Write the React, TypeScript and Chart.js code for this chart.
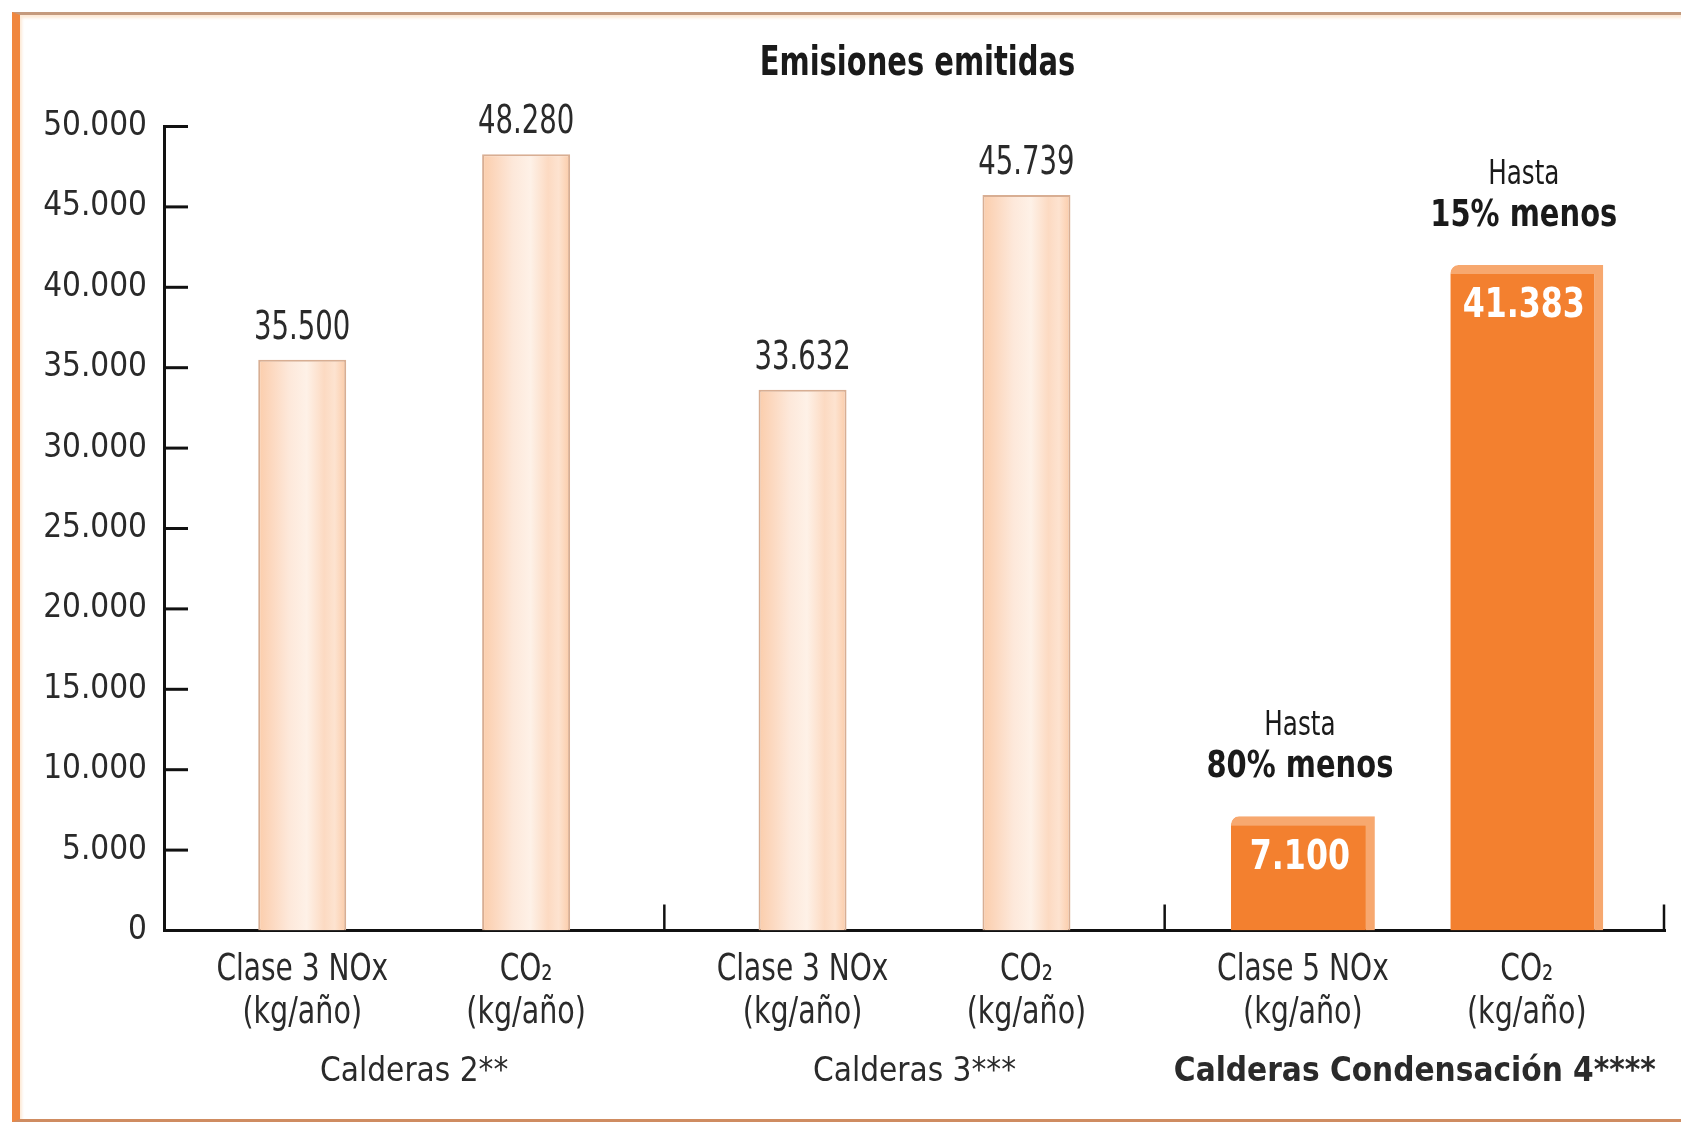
import React, { useEffect, useRef } from "react";
import { Chart, registerables } from "chart.js";

Chart.register(...registerables);

// ---------- data ----------
const chartTitle = "Emisiones emitidas";
const groupLabels = ["Calderas 2**", "Calderas 3***", "Calderas Condensación 4****"];
const noxLabels = ["Clase 3 NOx", "Clase 3 NOx", "Clase 5 NOx"];
const co2Labels = ["CO₂", "CO₂", "CO₂"];
const unitLabel = "(kg/año)";
const conventionalNox = [35500, 33632, null];
const conventionalCo2 = [48280, 45739, null];
const condensingNox = [null, null, 7100];
const condensingCo2 = [null, null, 41383];
const reductionPrefix = "Hasta";
const reductionNox = "80% menos";
const reductionCo2 = "15% menos";
const yMin = 0;
const yMax = 50000;
const yStep = 5000;

// ---------- styles ----------
const FONT =
  "'Liberation Sans Narrow', 'Arial Narrow', 'DejaVu Sans Condensed', 'Roboto Condensed', 'Liberation Sans', sans-serif";
const TEXT = "#2a2a2a";
const ORANGE = "#f3802f";
const ORANGE_EDGE = "#f7a86f";
const PALE_BORDER = "#d8ae93";

const fmt = (v: number) => String(Math.round(v)).replace(/\B(?=(\d{3})+(?!\d))/g, ".");

// text squeezed horizontally to imitate a condensed face
function squeezed(ctx: CanvasRenderingContext2D, text: string, x: number, y: number, sx: number) {
  ctx.save();
  ctx.translate(x, y);
  ctx.scale(sx, 1);
  ctx.fillText(text, 0, 0);
  ctx.restore();
}

const decorPlugin = {
  id: "decor",
  beforeDatasetsDraw(chart: any) {
    const ctx = chart.ctx;
    [0, 1].forEach((di) => {
      chart.getDatasetMeta(di).data.forEach((el: any) => {
        if (!isFinite(el.x) || !isFinite(el.y) || !isFinite(el.width)) return;
        const h = el.width / 2;
        const g = ctx.createLinearGradient(el.x - h, 0, el.x + h, 0);
        g.addColorStop(0, "#fbcdab");
        g.addColorStop(0.15, "#fcd8bf");
        g.addColorStop(0.35, "#fde8da");
        g.addColorStop(0.55, "#fef1e7");
        g.addColorStop(0.75, "#fcdac2");
        g.addColorStop(0.87, "#fde3d0");
        g.addColorStop(1, "#fbcba8");
        el.options = Object.assign({}, el.options, { backgroundColor: g });
      });
    });
  },
  afterDatasetsDraw(chart: any) {
    const { ctx, chartArea, scales } = chart;
    const xs = scales.x;
    const ys = scales.y;
    ctx.save();
    // y tick marks pointing into the plot
    ctx.strokeStyle = "#111";
    ctx.lineWidth = 3;
    ys.ticks.forEach((t: any) => {
      if (t.value === yMin) return;
      const py = ys.getPixelForValue(t.value);
      ctx.beginPath();
      ctx.moveTo(chartArea.left, py);
      ctx.lineTo(chartArea.left + 24, py);
      ctx.stroke();
    });
    // group separators rising from the x axis
    ctx.lineWidth = 2.5;
    for (let i = 0; i < groupLabels.length; i++) {
      const px = Math.min(xs.getPixelForValue(i + 0.5), chartArea.right - 1);
      ctx.beginPath();
      ctx.moveTo(px, chartArea.bottom);
      ctx.lineTo(px, chartArea.bottom - 26);
      ctx.stroke();
    }

    // title
    ctx.fillStyle = "#1a1a1a";
    ctx.textAlign = "center";
    ctx.textBaseline = "middle";
    ctx.font = `bold 41px ${FONT}`;
    squeezed(ctx, chartTitle, (chartArea.left + chartArea.right) / 2 + 3, chartArea.top - 62, 0.785);

    // labels above pale bars
    ctx.font = `39px ${FONT}`;
    ctx.fillStyle = TEXT;
    [0, 1].forEach((di) => {
      const ds = chart.data.datasets[di];
      chart.getDatasetMeta(di).data.forEach((el: any, i: number) => {
        const v = ds.data[i];
        if (v == null || !isFinite(el.y)) return;
        squeezed(ctx, fmt(v), el.x, el.y - 31, 0.785);
      });
    });

    // orange bars: value inside, reduction note above
    [2, 3].forEach((di) => {
      const ds = chart.data.datasets[di];
      const note = di === 2 ? reductionNox : reductionCo2;
      chart.getDatasetMeta(di).data.forEach((el: any, i: number) => {
        const v = ds.data[i];
        if (v == null || !isFinite(el.y)) return;
        const cx = el.x - 3;
        ctx.fillStyle = "#ffffff";
        ctx.font = `bold 40px ${FONT}`;
        squeezed(ctx, fmt(v), cx, el.y + 42, 0.88);
        ctx.fillStyle = "#1a1a1a";
        ctx.font = `33px ${FONT}`;
        squeezed(ctx, reductionPrefix, cx, el.y - 90, 0.83);
        ctx.font = `bold 37px ${FONT}`;
        squeezed(ctx, note, cx, el.y - 49, 0.87);
      });
    });

    // per-bar category labels below the axis
    ctx.fillStyle = TEXT;
    ctx.font = `38px ${FONT}`;
    const drawSub = (di: number, title: string[], idx: number) => {
      const el: any = chart.getDatasetMeta(di).data[idx];
      if (!el || !isFinite(el.x)) return;
      squeezed(ctx, title[idx], el.x, chartArea.bottom + 40, 0.82);
      squeezed(ctx, unitLabel, el.x, chartArea.bottom + 83, 0.835);
    };
    for (let i = 0; i < groupLabels.length; i++) {
      const noxDs = conventionalNox[i] != null ? 0 : 2;
      const co2Ds = conventionalCo2[i] != null ? 1 : 3;
      drawSub(noxDs, noxLabels, i);
      drawSub(co2Ds, co2Labels, i);
    }
    ctx.restore();
  },
};

export default function App() {
  const ref = useRef<HTMLCanvasElement | null>(null);

  useEffect(() => {
    if (!ref.current) return;
    const chart = new Chart(ref.current, {
      type: "bar",
      data: {
        labels: groupLabels,
        datasets: [
          {
            label: "NOx",
            data: conventionalNox,
            stack: "nox",
            backgroundColor: "#fcdcc5",
            borderColor: PALE_BORDER,
            borderWidth: 2,
            barPercentage: 0.393,
            categoryPercentage: 0.895,
          },
          {
            label: "CO2",
            data: conventionalCo2,
            stack: "co2",
            backgroundColor: "#fcdcc5",
            borderColor: PALE_BORDER,
            borderWidth: 2,
            barPercentage: 0.393,
            categoryPercentage: 0.895,
          },
          {
            label: "NOx condensación",
            data: condensingNox,
            stack: "nox",
            backgroundColor: ORANGE,
            borderColor: ORANGE_EDGE,
            borderWidth: { top: 9, right: 9, left: 0, bottom: 0 },
            borderRadius: { topLeft: 8, topRight: 0, bottomLeft: 0, bottomRight: 0 },
            borderSkipped: false,
            barPercentage: 0.643,
            categoryPercentage: 0.895,
          },
          {
            label: "CO2 condensación",
            data: condensingCo2,
            stack: "co2",
            backgroundColor: ORANGE,
            borderColor: ORANGE_EDGE,
            borderWidth: { top: 9, right: 9, left: 0, bottom: 0 },
            borderRadius: { topLeft: 8, topRight: 0, bottomLeft: 0, bottomRight: 0 },
            borderSkipped: false,
            barPercentage: 0.683,
            categoryPercentage: 0.895,
          },
        ] as any,
      },
      options: {
        responsive: false,
        animation: false,
        layout: { padding: { left: 20, top: 126.5, right: 16, bottom: 0 } },
        plugins: {
          legend: { display: false },
          title: { display: false },
          tooltip: { enabled: false },
        },
        scales: {
          x: {
            stacked: true,
            grid: { display: false, drawTicks: false },
            border: { display: true, color: "#111", width: 3 },
            ticks: {
              padding: 0,
              color: TEXT,
              autoSkip: false,
              maxRotation: 0,
              minRotation: 0,
              font: (c: any) => ({
                family: FONT,
                size: 33,
                lineHeight: "284px",
                weight: c.index === 2 ? "bold" : "normal",
              }),
            },
            afterFit: (s: any) => {
              s.height = 194.5;
            },
          },
          y: {
            stacked: true,
            min: yMin,
            max: yMax,
            grid: { display: false, drawTicks: false },
            border: { display: true, color: "#111", width: 3 },
            ticks: {
              stepSize: yStep,
              padding: 17,
              color: TEXT,
              font: { family: FONT, size: 33 },
              callback: (v: any) => fmt(Number(v)),
            },
            afterFit: (s: any) => {
              s.width = 144;
            },
          },
        },
      } as any,
      plugins: [decorPlugin],
    });
    return () => chart.destroy();
  }, []);

  return (
    <div style={{ position: "fixed", left: 0, top: 0, width: 1681, height: 1125, background: "#fff", overflow: "hidden" }}>
      <div
        style={{
          position: "absolute",
          left: 12,
          top: 12,
          width: 1700,
          height: 1110,
          boxSizing: "border-box",
          borderTop: "3px solid #c59a7d",
          borderLeft: "8px solid #f0873f",
          borderBottom: "3px solid #cf8c61",
          boxShadow: "inset 2px 3px 3px #fde9d6",
        }}
      />
      <canvas ref={ref} width={1681} height={1125} style={{ position: "absolute", left: 0, top: 0 }} />
    </div>
  );
}
